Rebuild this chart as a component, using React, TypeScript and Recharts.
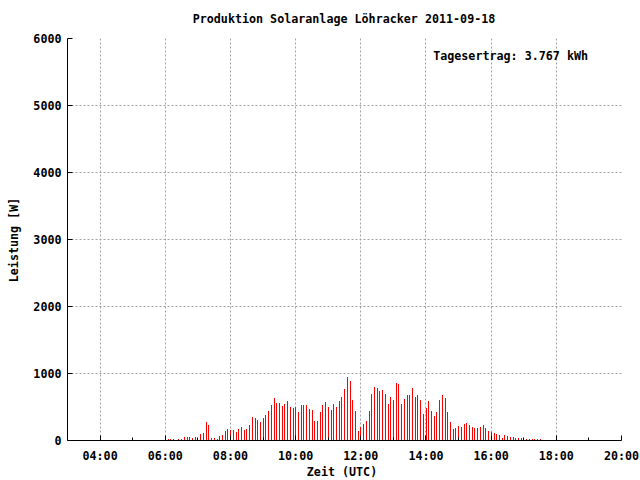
import { ComposedChart, Bar, XAxis, YAxis, CartesianGrid } from 'recharts';

// 5-minute samples (UTC), 06:20 has no reading
const times = [
  '06:05', '06:10', '06:15', '06:25', '06:30', '06:35', '06:40', '06:45', '06:50', '06:55', '07:00',
  '07:05', '07:10', '07:15', '07:20', '07:25', '07:30', '07:35', '07:40', '07:45', '07:50', '07:55', '08:00',
  '08:05', '08:10', '08:15', '08:20', '08:25', '08:30', '08:35', '08:40', '08:45', '08:50', '08:55', '09:00',
  '09:05', '09:10', '09:15', '09:20', '09:25', '09:30', '09:35', '09:40', '09:45', '09:50', '09:55', '10:00',
  '10:05', '10:10', '10:15', '10:20', '10:25', '10:30', '10:35', '10:40', '10:45', '10:50', '10:55', '11:00',
  '11:05', '11:10', '11:15', '11:20', '11:25', '11:30', '11:35', '11:40', '11:45', '11:50', '11:55', '12:00',
  '12:05', '12:10', '12:15', '12:20', '12:25', '12:30', '12:35', '12:40', '12:45', '12:50', '12:55', '13:00',
  '13:05', '13:10', '13:15', '13:20', '13:25', '13:30', '13:35', '13:40', '13:45', '13:50', '13:55', '14:00',
  '14:05', '14:10', '14:15', '14:20', '14:25', '14:30', '14:35', '14:40', '14:45', '14:50', '14:55', '15:00',
  '15:05', '15:10', '15:15', '15:20', '15:25', '15:30', '15:35', '15:40', '15:45', '15:50', '15:55', '16:00',
  '16:05', '16:10', '16:15', '16:20', '16:25', '16:30', '16:35', '16:40', '16:45', '16:50', '16:55', '17:00',
  '17:05', '17:10', '17:15', '17:20', '17:25', '17:30',
];

// Leistung in W
const watts = [
  15, 15, 15, 15, 15, 45, 45, 45, 35, 45, 30,
  90, 105, 270, 225, 30, 30, 15, 60, 75, 135, 165, 150,
  150, 120, 165, 195, 150, 165, 225, 345, 330, 300, 270, 330,
  375, 435, 525, 630, 555, 555, 510, 540, 585, 495, 480, 495,
  420, 525, 525, 525, 465, 450, 285, 285, 420, 525, 570, 495,
  450, 540, 495, 585, 645, 765, 945, 885, 600, 435, 135, 195,
  240, 285, 435, 690, 795, 780, 735, 750, 690, 540, 645, 600,
  855, 840, 540, 615, 675, 675, 780, 645, 675, 600, 390, 480,
  585, 435, 360, 420, 600, 675, 630, 420, 270, 165, 180, 210,
  195, 240, 255, 225, 195, 180, 180, 195, 225, 180, 135, 120,
  105, 90, 75, 30, 75, 60, 45, 45, 30, 30, 30, 30,
  15, 15, 15, 15, 15, 15,
];

const majorTicks = ['04:00', '06:00', '08:00', '10:00', '12:00', '14:00', '16:00', '18:00', '20:00'];
const minorTicks = ['05:00', '07:00', '09:00', '11:00', '13:00', '15:00', '17:00', '19:00'];
const yTicks = [0, 1000, 2000, 3000, 4000, 5000, 6000];
const yGrid = [1000, 2000, 3000, 4000, 5000];

const title = 'Produktion Solaranlage Löhracker 2011-09-18';
const yield_ = 'Tagesertrag: 3.767 kWh';

const toMin = (s: string) => {
  const [h, m] = s.split(':').map(Number);
  return h * 60 + m;
};
const fmt = (v: number) =>
  `${String(Math.floor(v / 60)).padStart(2, '0')}:${String(v % 60).padStart(2, '0')}`;

const data = times.map((t, i) => ({ t: toMin(t), w: watts[i] }));
const majorVals = majorTicks.map(toMin);
const xTickVals = [...majorVals, ...minorTicks.map(toMin)].sort((a, b) => a - b);
const xGrid = majorVals.filter((v) => v < toMin('20:00'));

const font = {
  fontFamily: "'DejaVu Sans Mono', monospace",
  fontWeight: 'bold' as const,
  fontSize: 11.7,
  fill: '#000',
};

const snap = (v: number) => Math.floor(v) + 0.5;

const BottomTick = (p: any) => {
  const major = majorVals.includes(p.payload.value);
  const x = snap(p.x);
  return (
    <g>
      <line x1={x} x2={x} y1={p.y} y2={p.y - (major ? 5 : 3)} stroke="#000" />
      {major && (
        <text x={p.x} y={p.y + 19} textAnchor="middle" {...font}>
          {fmt(p.payload.value)}
        </text>
      )}
    </g>
  );
};

const TopTick = (p: any) => {
  const major = majorVals.includes(p.payload.value);
  const x = snap(p.x);
  return <line x1={x} x2={x} y1={p.y} y2={p.y + (major ? 5 : 3)} stroke="#000" />;
};

const LeftTick = (p: any) => {
  const y = snap(p.y);
  return (
    <g>
      <line x1={p.x} x2={p.x + 5} y1={y} y2={y} stroke="#000" />
      <text x={p.x - 6} y={p.y + 4.5} textAnchor="end" {...font}>
        {p.payload.value}
      </text>
    </g>
  );
};

const RightTick = (p: any) => {
  const y = snap(p.y);
  return <line x1={p.x} x2={p.x - 5} y1={y} y2={y} stroke="#000" />;
};

const Impulse = (p: any) => {
  const { x, y, width, height } = p;
  if (!height || height <= 0) return <g />;
  const left = Math.round(x + width / 2 - 0.5);
  const top = Math.round(y);
  const bottom = Math.floor(y + height);
  return (
    <rect x={left} y={top} width={1} height={Math.max(bottom - top, 1)} fill="#ff0000" shapeRendering="crispEdges" />
  );
};

const GridV = (p: any) => {
  const x = snap(p.x1);
  return <line key={p.key} x1={x} x2={x} y1={p.y1} y2={p.y2} stroke="#a0a0a0" strokeDasharray="2 2" />;
};
const GridH = (p: any) => {
  const y = snap(p.y1);
  return <line key={p.key} x1={p.x1} x2={p.x2} y1={y} y2={y} stroke="#a0a0a0" strokeDasharray="2 2" />;
};

export default function App() {
  const domain: [number, number] = [toMin('03:00'), toMin('20:00')];
  return (
    <div style={{ position: 'absolute', left: 0, top: 0, width: 640, height: 480, background: '#fff' }}>
      <ComposedChart
        width={640}
        height={480}
        data={data}
        margin={{ top: 38.5, right: 18.5, left: 0, bottom: 0 }}
      >
        <CartesianGrid verticalValues={xGrid} horizontalValues={yGrid} vertical={GridV} horizontal={GridH} />
        <XAxis
          dataKey="t"
          type="number"
          domain={domain}
          allowDataOverflow
          ticks={xTickVals}
          interval={0}
          height={39.5}
          tickLine={false}
          tickSize={0}
          tickMargin={0}
          axisLine={{ stroke: '#000' }}
          tick={BottomTick}
        />
        <XAxis
          xAxisId="top"
          orientation="top"
          type="number"
          domain={domain}
          allowDataOverflow
          ticks={xTickVals}
          interval={0}
          height={0}
          tickLine={false}
          tickSize={0}
          tickMargin={0}
          axisLine={{ stroke: '#000' }}
          tick={TopTick}
        />
        <YAxis
          type="number"
          domain={[0, 6000]}
          allowDataOverflow
          ticks={yTicks}
          interval={0}
          width={67.5}
          tickLine={false}
          tickSize={0}
          tickMargin={0}
          axisLine={{ stroke: '#000' }}
          tick={LeftTick}
        />
        <YAxis
          yAxisId="right"
          orientation="right"
          type="number"
          domain={[0, 6000]}
          allowDataOverflow
          ticks={yTicks}
          interval={0}
          width={0}
          tickLine={false}
          tickSize={0}
          tickMargin={0}
          axisLine={{ stroke: '#000' }}
          tick={RightTick}
        />
        <Bar dataKey="w" barSize={1} fill="#ff0000" shape={Impulse} isAnimationActive={false} />
      </ComposedChart>
      <svg
        width={640}
        height={480}
        style={{ position: 'absolute', left: 0, top: 0, pointerEvents: 'none' }}
      >
        <text x={344} y={22.5} textAnchor="middle" {...font}>{title}</text>
        <text x={588} y={60} textAnchor="end" {...font}>{yield_}</text>
        <text x={18} y={240} textAnchor="middle" transform="rotate(-90 18 240)" {...font}>Leistung [W]</text>
        <text x={342} y={476} textAnchor="middle" {...font}>Zeit (UTC)</text>
      </svg>
    </div>
  );
}
